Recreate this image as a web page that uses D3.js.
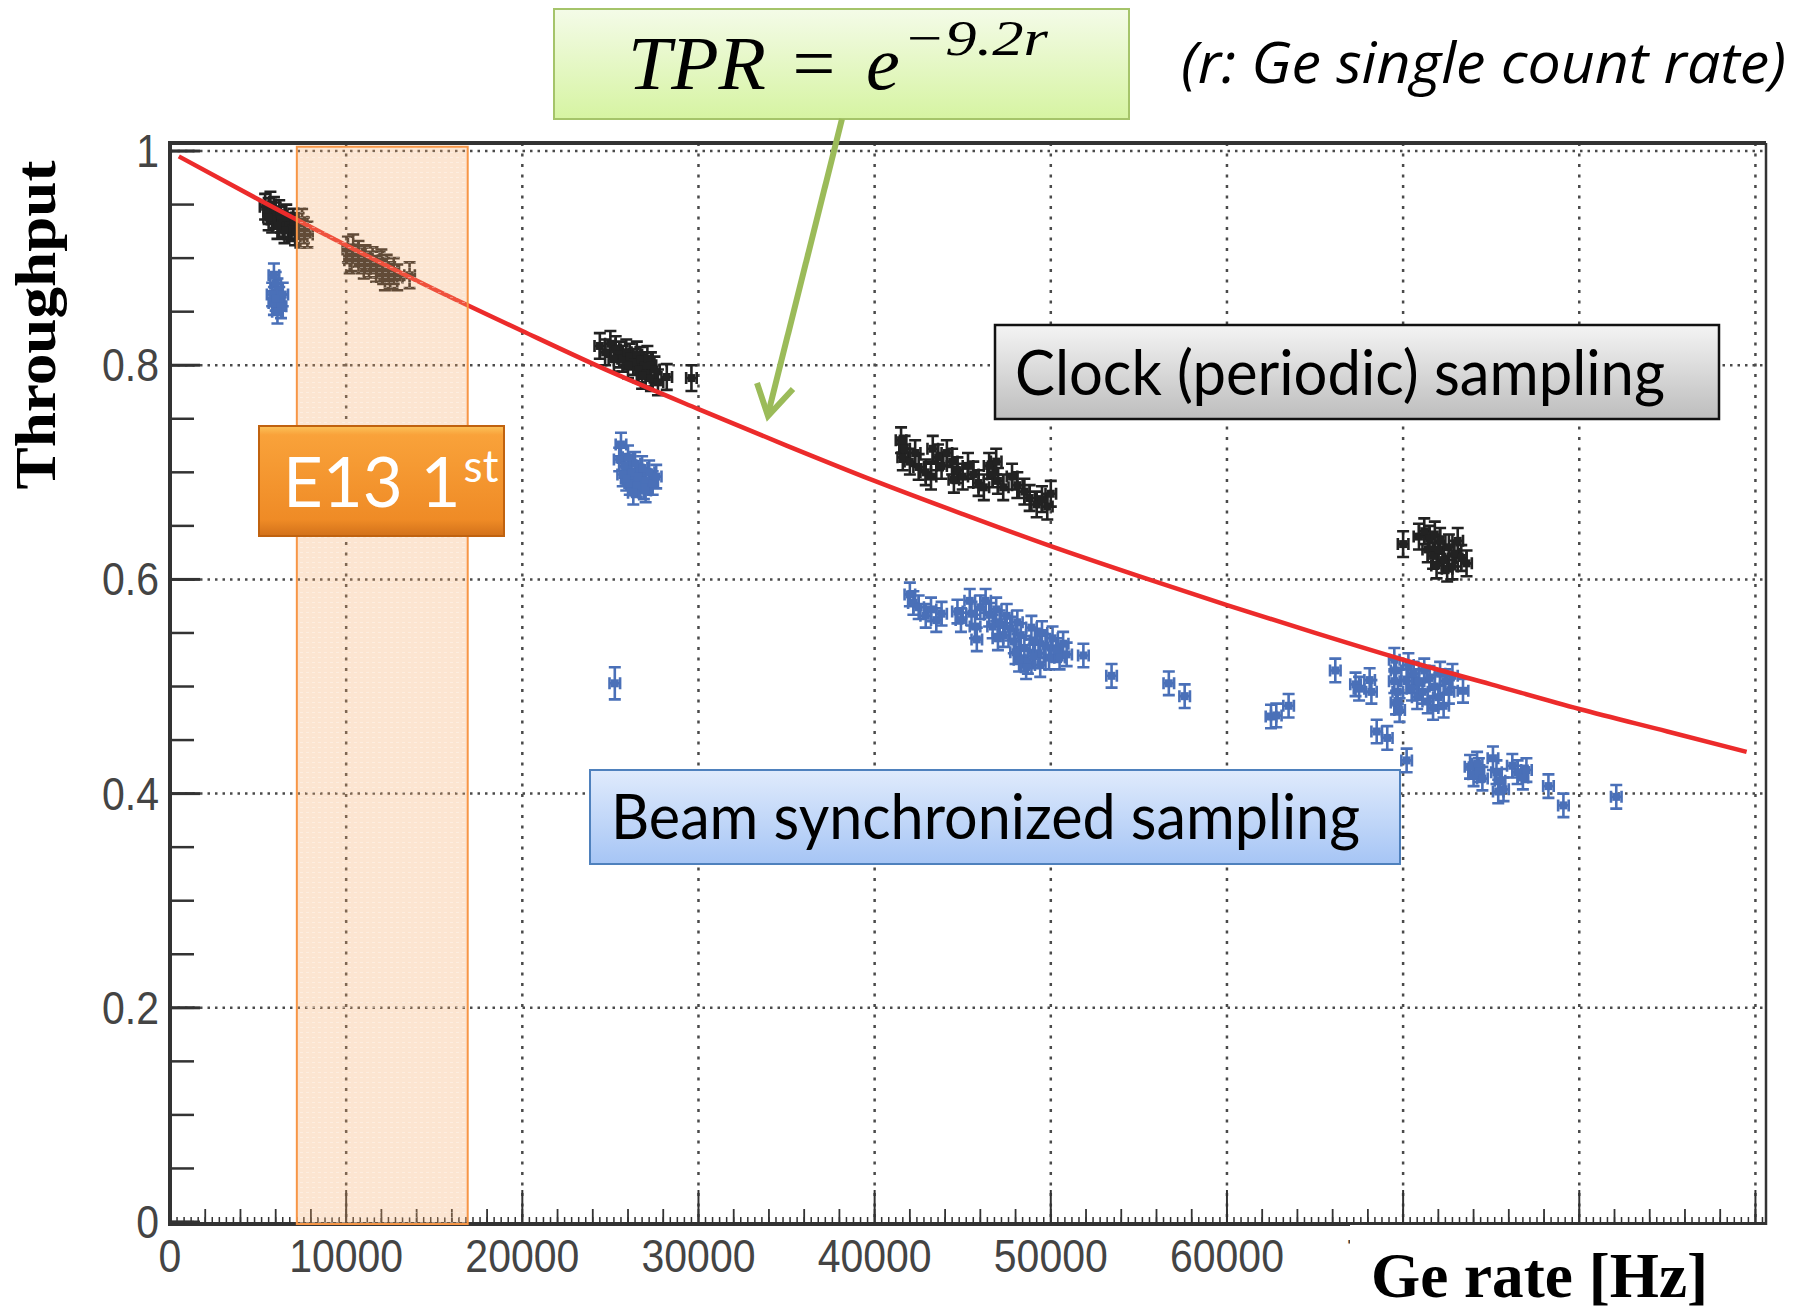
<!DOCTYPE html>
<html>
<head>
<meta charset="utf-8">
<script src="https://cdn.jsdelivr.net/npm/d3@7"></script>
<style>
  html, body { margin: 0; padding: 0; background: #fff; }
  svg { display: block; }
</style>
</head>
<body>
<svg id="chart" width="1807" height="1309"></svg>
<script>
// ---- data ----
var xTickValues = [0, 10000, 20000, 30000, 40000, 50000, 60000, 70000, 80000, 90000];
var xTickLabels = ["0", "10000", "20000", "30000", "40000", "50000", "60000", "70000", "80000", "90000"];
var yTickValues = [0, 0.2, 0.4, 0.6, 0.8, 1];
var yTickLabels = ["0", "0.2", "0.4", "0.6", "0.8", "1"];

// E13 1st rate window
var bandRange = [7200, 16900];

// red curve, TPR
var curveRate = [500, 5000, 10000, 15000, 20000, 25000, 30000, 35000, 40000, 45000, 50000, 55000, 60000, 65000, 70000, 75000, 80000, 85000, 89500];
var curveTPR  = [0.995, 0.955, 0.912, 0.871, 0.832, 0.794, 0.759, 0.725, 0.692, 0.661, 0.631, 0.603, 0.576, 0.550, 0.525, 0.502, 0.479, 0.458, 0.439];

// clock (periodic) sampling, black points [rate, throughput]
var clockPoints = [
  [5400,0.948],[5600,0.944],[5700,0.950],[5900,0.945],[6000,0.940],[5800,0.936],[6200,0.942],[6300,0.936],
  [6400,0.932],[6600,0.938],[6700,0.930],[6900,0.928],[7000,0.934],[6500,0.926],[7100,0.924],[5600,0.938],
  [6100,0.930],[7300,0.930],[7500,0.934],[7600,0.926],[7800,0.922],[7400,0.922],
  [10100,0.908],[10400,0.910],[10300,0.900],[10700,0.904],[10900,0.898],[11100,0.900],[11300,0.894],[11500,0.898],
  [11700,0.890],[11900,0.894],[12100,0.888],[12300,0.891],[12500,0.884],[12700,0.888],[12200,0.882],[12900,0.882],
  [13600,0.884],[10200,0.898],[11000,0.893],[12000,0.896],
  [24400,0.818],[24700,0.812],[25000,0.820],[25300,0.815],[25500,0.810],[25700,0.806],[25900,0.812],[26100,0.808],
  [26300,0.803],[26500,0.810],[26700,0.805],[26900,0.800],[27100,0.806],[27300,0.800],[27500,0.796],[26000,0.800],
  [26600,0.796],[27000,0.792],[25200,0.806],[27300,0.788],[27700,0.784],[26800,0.790],[28200,0.789],[29600,0.788],
  [41500,0.730],[41700,0.722],[41600,0.714],[42000,0.710],[42300,0.718],[42500,0.705],[42900,0.700],[43200,0.696],
  [43300,0.722],[43600,0.714],[43800,0.706],[44100,0.718],[44400,0.710],[44700,0.702],[45000,0.696],[44500,0.693],
  [45300,0.706],[45600,0.698],[45900,0.690],[46200,0.686],[46500,0.706],[46700,0.698],[47000,0.692],[47300,0.686],
  [46900,0.710],[47800,0.696],[48100,0.688],[48500,0.682],[48800,0.676],[49200,0.670],[49500,0.675],[49800,0.668],[50000,0.680],
  [70000,0.633],[70900,0.640],[71200,0.645],[71500,0.638],[71800,0.642],[72100,0.636],[71400,0.628],[71700,0.622],
  [72000,0.628],[72300,0.618],[72600,0.630],[72900,0.624],[73100,0.636],[73300,0.620],[72500,0.610],[73600,0.615],
  [71900,0.613],[72800,0.612]
];

// beam synchronized sampling, blue points [rate, throughput, (y error)]
var beamPoints = [
  [5900,0.884],[6000,0.876],[6100,0.870],[5800,0.866],[6200,0.862],[5900,0.858],[6300,0.855],[6100,0.850],[6400,0.866],[6000,0.862],
  [25600,0.726],[25500,0.712],[25800,0.706],[26000,0.714],[26200,0.700],[26400,0.708],[26600,0.696],[26800,0.704],
  [27000,0.692],[27200,0.700],[27400,0.690],[25700,0.698],[26100,0.690],[26900,0.686],[27600,0.696],[25900,0.694],
  [26500,0.688],[26300,0.681],[27000,0.683],
  [25250,0.503,0.015],
  [42000,0.586],[42200,0.578],[42500,0.574],[42900,0.566],[43200,0.572],[43500,0.562],[43800,0.568],[44700,0.570],
  [44900,0.562],[45400,0.580],[45500,0.568],[45700,0.556],[45800,0.544],[46000,0.574],
  [46300,0.580],[46500,0.567],[46700,0.556],[46900,0.572],[47100,0.560],[47300,0.548],[47500,0.566],[47700,0.554],
  [47900,0.542],[48100,0.560],[48300,0.548],[48500,0.536],[48700,0.523],[48200,0.525],[48900,0.555],[49100,0.543],
  [49300,0.531],[49500,0.550],[49700,0.538],[49900,0.527],[50100,0.545],[50300,0.534],[50500,0.527],[50700,0.540],
  [50900,0.530],[47000,0.545],[48000,0.532],[49000,0.528],[48600,0.518],[49400,0.520],
  [51850,0.529],[53450,0.510],[56700,0.503],[57600,0.491],[62500,0.472],[62800,0.473],[63500,0.482],[66150,0.515],
  [67300,0.502],[67500,0.498],[68100,0.506],[68200,0.495],[68500,0.458],[69100,0.452],[70200,0.431],
  [69500,0.525],[69600,0.515],[69500,0.505],[69700,0.495],[69600,0.485],[69800,0.478],
  [70300,0.520],[70600,0.512],[70900,0.505],[71200,0.515],[71500,0.508],[71800,0.500],[72100,0.512],[72400,0.505],
  [70500,0.498],[70800,0.490],[71100,0.495],[71400,0.486],[71700,0.480],[72000,0.490],[72300,0.482],[72600,0.495],
  [72800,0.510],[70200,0.505],[73400,0.496],
  [73800,0.425],[74000,0.418],[74300,0.422],[74500,0.414],[74200,0.428],[75100,0.433],[75300,0.420],[75500,0.412],
  [75700,0.404],[75400,0.402],[76200,0.426],[76500,0.420],[76800,0.415],[77000,0.422],[78250,0.407],[79100,0.389],[82100,0.397]
];
var clockErrY = 0.012, beamErrY = 0.011, rateErr = 300;

// ---- drawing ----
var svg = d3.select("#chart");
var x = d3.scaleLinear().domain([0, 90600]).range([170, 1766]);
var y = d3.scaleLinear().domain([0, 1.0075]).range([1222, 143]);

var defs = svg.append("defs");
function vgrad(id, stops) {
  var g = defs.append("linearGradient").attr("id", id).attr("x1", 0).attr("y1", 0).attr("x2", 0).attr("y2", 1);
  stops.forEach(function (s) { g.append("stop").attr("offset", s[0]).attr("stop-color", s[1]); });
}
vgrad("gGreen", [["0%", "#f4fbe8"], ["100%", "#d6f4a2"]]);
vgrad("gGray", [["0%", "#f4f4f4"], ["100%", "#bdbdbd"]]);
vgrad("gBlue", [["0%", "#e0ebfc"], ["100%", "#a6c5f5"]]);
vgrad("gOrange", [["0%", "#fcc35a"], ["8%", "#f9a23a"], ["85%", "#ef8b26"], ["100%", "#d2711a"]]);

var pat = defs.append("pattern").attr("id", "bandDots").attr("patternUnits", "userSpaceOnUse")
  .attr("width", 6).attr("height", 5);
pat.append("rect").attr("width", 6).attr("height", 5).attr("fill", "#f8a968").attr("fill-opacity", 0.3);
pat.append("rect").attr("y", 2).attr("width", 3).attr("height", 1).attr("fill", "#ffffff").attr("fill-opacity", 0.35);

// grid
var grid = svg.append("g").attr("stroke", "#4a4a4a").attr("stroke-width", 2.5).attr("fill", "none");
grid.selectAll(".gx").data(xTickValues.slice(1)).enter().append("line")
  .attr("x1", function (d) { return x(d); }).attr("x2", function (d) { return x(d); })
  .attr("y1", y(1.0075)).attr("y2", y(0))
  .attr("stroke-dasharray", "3,7.5");
grid.selectAll(".gy").data(yTickValues.slice(1)).enter().append("line")
  .attr("x1", x(0)).attr("x2", x(90600))
  .attr("y1", function (d) { return y(d); }).attr("y2", function (d) { return y(d); })
  .attr("stroke-dasharray", "2.5,5");

// axes & frame
var ax = svg.append("g").attr("stroke", "#333").attr("fill", "none");
ax.append("line").attr("x1", x(0)).attr("x2", x(90600)).attr("y1", 143).attr("y2", 143).attr("stroke-width", 4);
ax.append("line").attr("x1", x(90600)).attr("x2", x(90600)).attr("y1", 143).attr("y2", 1225).attr("stroke-width", 2.5);
ax.append("line").attr("x1", x(0)).attr("x2", x(0)).attr("y1", 141).attr("y2", 1226).attr("stroke-width", 4);
ax.append("line").attr("x1", x(0) - 2).attr("x2", x(90600)).attr("y1", 1224).attr("y2", 1224).attr("stroke-width", 4);

var xt3 = d3.range(0, 90601, 400), xt2 = d3.range(0, 90601, 2000);
ax.selectAll(".t3").data(xt3).enter().append("line")
  .attr("x1", function (d) { return x(d); }).attr("x2", function (d) { return x(d); })
  .attr("y1", 1224).attr("y2", 1217).attr("stroke-width", 1.5);
ax.selectAll(".t2").data(xt2).enter().append("line")
  .attr("x1", function (d) { return x(d); }).attr("x2", function (d) { return x(d); })
  .attr("y1", 1224).attr("y2", 1209).attr("stroke-width", 1.8);
ax.selectAll(".t1").data(xTickValues).enter().append("line")
  .attr("x1", function (d) { return x(d); }).attr("x2", function (d) { return x(d); })
  .attr("y1", 1224).attr("y2", 1190).attr("stroke-width", 2);
ax.selectAll(".ty2").data(d3.range(0, 1.001, 0.05)).enter().append("line")
  .attr("x1", x(0)).attr("x2", x(0) + 24)
  .attr("y1", function (d) { return y(d); }).attr("y2", function (d) { return y(d); }).attr("stroke-width", 2.5);
ax.selectAll(".ty1").data(yTickValues).enter().append("line")
  .attr("x1", x(0)).attr("x2", x(0) + 30)
  .attr("y1", function (d) { return y(d); }).attr("y2", function (d) { return y(d); }).attr("stroke-width", 3);

// tick labels; the ones past 70000 sit fully under the title patch, so they are left out
var lab = svg.append("g").attr("font-family", "'Liberation Sans', Arial, sans-serif").attr("font-size", 41).attr("fill", "#444");
lab.selectAll(".xl").data(xTickValues.filter(function (d) { return d <= 70000; })).enter().append("text")
  .attr("text-anchor", "middle")
  .attr("transform", function (d) { return "translate(" + x(d) + ",1272) scale(1,1.12)"; })
  .text(function (d, i) { return xTickLabels[i]; });
lab.selectAll(".yl").data(yTickValues).enter().append("text")
  .attr("text-anchor", "end")
  .attr("transform", function (d) { return "translate(159," + (y(d) + 16) + ") scale(1,1.12)"; })
  .text(function (d, i) { return yTickLabels[i]; });

// data points with error bars
function drawPoints(pts, ey, color) {
  var g = svg.append("g");
  g.selectAll("path").data(pts).enter().append("path")
    .attr("d", function (d) {
      var e = d[2] || ey;
      var cx = x(d[0]), cy = y(d[1]), y1 = y(d[1] + e), y2 = y(d[1] - e);
      var x1 = x(d[0] - rateErr), x2 = x(d[0] + rateErr), c = 6;
      return "M" + cx + "," + y1 + "V" + y2 +
        "M" + (cx - c) + "," + y1 + "H" + (cx + c) +
        "M" + (cx - c) + "," + y2 + "H" + (cx + c) +
        "M" + x1 + "," + cy + "H" + x2 +
        "M" + x1 + "," + (cy - c) + "V" + (cy + c) +
        "M" + x2 + "," + (cy - c) + "V" + (cy + c);
    })
    .attr("fill", "none").attr("stroke", color).attr("stroke-width", 2.6);
  g.selectAll("rect").data(pts).enter().append("rect")
    .attr("x", function (d) { return x(d[0]) - 4; })
    .attr("y", function (d) { return y(d[1]) - 4; })
    .attr("width", 8).attr("height", 8).attr("fill", color);
}
drawPoints(clockPoints, clockErrY, "#222222");
drawPoints(beamPoints, beamErrY, "#4a70b8");

// fit curve
var line = d3.line()
  .x(function (d) { return x(d[0]); })
  .y(function (d) { return y(d[1]); })
  .curve(d3.curveMonotoneX);
svg.append("path")
  .datum(curveRate.map(function (r, i) { return [r, curveTPR[i]]; }))
  .attr("d", line).attr("fill", "none").attr("stroke", "#ec2b2b").attr("stroke-width", 4.5);

// E13 band
svg.append("rect")
  .attr("x", x(bandRange[0])).attr("y", y(1.004))
  .attr("width", x(bandRange[1]) - x(bandRange[0])).attr("height", y(0) + 2 - y(1.004))
  .attr("fill", "url(#bandDots)").attr("stroke", "#f79646").attr("stroke-width", 2);

// annotation boxes
function box(x0, y0, w, h, fill, stroke, sw) {
  svg.append("rect").attr("x", x0).attr("y", y0).attr("width", w).attr("height", h)
    .attr("fill", fill).attr("stroke", stroke).attr("stroke-width", sw);
}
box(259, 426, 245, 110, "url(#gOrange)", "#c0620f", 2);
var e13 = svg.append("text").attr("x", 283).attr("y", 507).attr("font-family", "Lato, 'Open Sans', sans-serif")
  .attr("font-size", 69).attr("fill", "#fff");
e13.append("tspan").text("E13 1");
e13.append("tspan").attr("dx", 3).attr("dy", -25).attr("font-size", 44).text("st");

box(995, 325, 724, 94, "url(#gGray)", "#111", 2.5);
svg.append("text").attr("x", 1015).attr("y", 395).attr("font-family", "Lato, 'Open Sans', sans-serif")
  .attr("font-size", 62).attr("fill", "#000").attr("textLength", 650).attr("lengthAdjust", "spacingAndGlyphs")
  .text("Clock (periodic) sampling");

box(590, 770, 810, 94, "url(#gBlue)", "#4f81bd", 2);
svg.append("text").attr("x", 611).attr("y", 839).attr("font-family", "Lato, 'Open Sans', sans-serif")
  .attr("font-size", 62).attr("fill", "#000").attr("textLength", 749).attr("lengthAdjust", "spacingAndGlyphs")
  .text("Beam synchronized sampling");

// formula box and arrow
box(554, 9, 575, 110, "url(#gGreen)", "#a5c46a", 2);
var serif = "'Liberation Serif', 'Times New Roman', serif";
svg.append("text").attr("x", 628).attr("y", 89).attr("font-family", serif).attr("font-style", "italic")
  .attr("font-size", 76).attr("textLength", 138).attr("lengthAdjust", "spacingAndGlyphs").text("TPR");
svg.append("text").attr("x", 814).attr("y", 89).attr("text-anchor", "middle").attr("font-family", serif)
  .attr("font-size", 76).text("=");
svg.append("text").attr("x", 866).attr("y", 89).attr("font-family", serif).attr("font-style", "italic")
  .attr("font-size", 76).text("e");
svg.append("text").attr("x", 903).attr("y", 55).attr("font-family", serif).attr("font-style", "italic")
  .attr("font-size", 50).attr("textLength", 145).attr("lengthAdjust", "spacingAndGlyphs").text("\u22129.2r");

svg.append("text").attr("x", 1181).attr("y", 83).attr("font-family", "'Open Sans', sans-serif").attr("font-style", "italic")
  .attr("font-size", 56).attr("fill", "#000").attr("textLength", 605).attr("lengthAdjust", "spacingAndGlyphs")
  .text("(r: Ge single count rate)");

svg.append("path").attr("d", "M842,119L768,414").attr("fill", "none")
  .attr("stroke", "#9bbb59").attr("stroke-width", 6);
svg.append("path").attr("d", "M757,383L768,416L793,389").attr("fill", "none")
  .attr("stroke", "#9bbb59").attr("stroke-width", 6).attr("stroke-linejoin", "miter");

// x title over a white patch
svg.append("rect").attr("x", 1350).attr("y", 1225).attr("width", 457).attr("height", 84).attr("fill", "#fff");
svg.append("text").attr("x", 1371).attr("y", 1297).attr("font-family", serif).attr("font-weight", "bold")
  .attr("font-size", 64).attr("textLength", 337).attr("lengthAdjust", "spacingAndGlyphs").text("Ge rate [Hz]");

// y title
svg.append("text").attr("transform", "translate(55,325) rotate(-90)").attr("text-anchor", "middle")
  .attr("font-family", serif).attr("font-weight", "bold").attr("font-size", 56)
  .attr("textLength", 329).attr("lengthAdjust", "spacingAndGlyphs").text("Throughput");
</script>
</body>
</html>
